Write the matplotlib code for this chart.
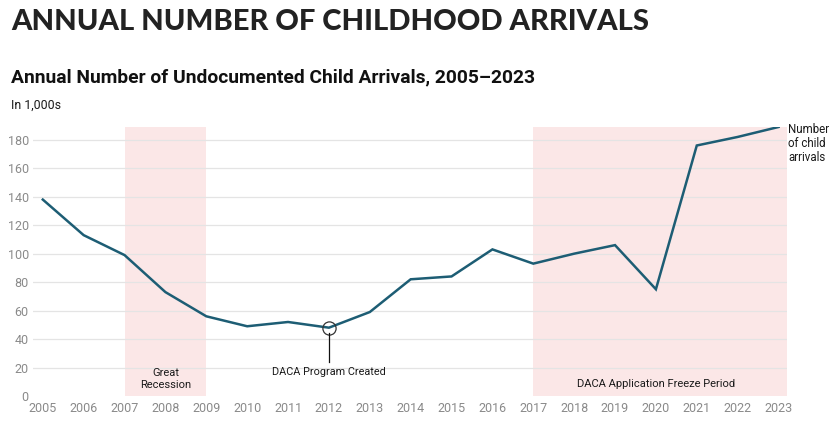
import matplotlib
matplotlib.use("Agg")
import matplotlib.pyplot as plt

years = list(range(2005, 2024))
arrivals = [138, 113, 99, 73, 56, 49, 52, 48, 59, 82, 84, 103, 93, 100, 106, 75, 176, 182, 189]
y_ticks = [0, 20, 40, 60, 80, 100, 120, 140, 160, 180]
shade_periods = [(2007, 2009, "Great\nRecession", 12.0), (2017, 2023, "DACA Application Freeze Period", 8.5)]
event_year = 2012
event_label = "DACA Program Created"

LINE = "#1d5d74"
SHADE = "#fbe7e7"
GRID = "#e4e4e4"
TICK = "#8a8a8a"
TXT = "#1a1a1a"

fig = plt.figure(figsize=(8.31, 4.23), dpi=100)
ax = fig.add_axes([0.0397, 0.0638, 0.907, 0.636])
XMIN, XMAX = 2004.76, 2023.2
ax.set_xlim(XMIN, XMAX)

top = max(arrivals)
for x0, x1, lab, ty in shade_periods:
    right = XMAX if x1 == years[-1] else x1
    ax.fill_between([x0, right], 0, top, color=SHADE, lw=0, zorder=0)
    ax.text((x0 + x1) / 2, ty, lab, ha="center", va="center", fontsize=8,
            family="Roboto", color=TXT, linespacing=1.3, zorder=3)

for t in y_ticks[1:]:
    ax.axhline(t, color=GRID, lw=0.9, zorder=1)

ax.plot(years, arrivals, color=LINE, lw=1.8, zorder=4, solid_joinstyle="miter")

ev_val = arrivals[years.index(event_year)]
ax.plot([event_year], [ev_val], marker="o", ms=9.5, mfc="none", mec="#333333", mew=0.9, zorder=5)
ax.plot([event_year, event_year], [ev_val - 4, 24], color="#111111", lw=0.9, zorder=5)
ax.text(event_year, 17, event_label, ha="center", va="center", fontsize=7.8,
        family="Roboto", color=TXT)

ax.text(2023.23, top + 3, "Number\nof child\narrivals", ha="left", va="top", fontsize=8.3,
        family="Roboto", color=TXT, linespacing=1.1, clip_on=False)

ax.set_ylim(0, top)
ax.set_xticks(years)
ax.set_xticklabels([str(y) for y in years])
ax.set_yticks(y_ticks)
ax.tick_params(length=0, labelsize=9, labelcolor=TICK, pad=4)
ax.tick_params(axis="y", pad=3)
for lab in ax.get_xticklabels() + ax.get_yticklabels():
    lab.set_family("Roboto")
for s in ax.spines.values():
    s.set_visible(False)

fig.text(11 / 831, 1 - 21.7 / 423, "ANNUAL NUMBER OF CHILDHOOD ARRIVALS", ha="left", va="center",
         fontsize=21, family="Lato", weight="black", color="#222222")
fig.text(11 / 831, 1 - 77.5 / 423, "Annual Number of Undocumented Child Arrivals, 2005–2023", ha="left",
         va="center", fontsize=13.9, family="Roboto", weight="bold", color="#111111")
fig.text(11 / 831, 1 - 105.5 / 423, "In 1,000s", ha="left", va="center", fontsize=8.9,
         family="Roboto", color=TXT)

fig.savefig("out.png", dpi=100)
